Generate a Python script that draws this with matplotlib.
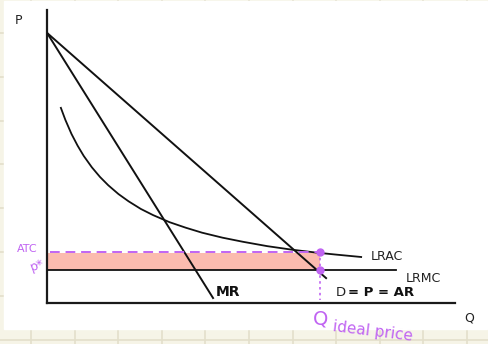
import matplotlib
matplotlib.use("Agg")
import matplotlib.pyplot as plt
from matplotlib.patches import Rectangle

# ----------------------------
# DATA (Q and P on a 0..100 scale)
# ----------------------------
demand_q = [0.0, 68.4]
demand_p = [92.2, 8.5]

mr_q = [0.0, 40.7]
mr_p = [92.2, 1.7]

lrac_q = [3.4, 4.5, 6, 7.5, 9, 11, 13, 15, 17.5, 20, 23, 26, 30, 34,
          38, 43, 48, 54, 60, 66, 71, 77]
lrac_p = [66.6, 62.5, 57.7, 53.7, 50.2, 46.3, 43.0, 40.2, 37.2, 34.7, 32.1,
          30.0, 27.6, 25.7, 24.0, 22.3, 20.9, 19.4, 18.2, 17.2, 16.5, 15.7]

lrmc_q = [0.0, 85.5]
lrmc_p = [11.3, 11.3]

q_ideal = 66.9
atc_level = 17.4
p_star = 11.3

purple = "#c064f2"
salmon = "#fbbbaf"

fig = plt.figure(figsize=(4.89, 3.44), dpi=100)

# paper background with faint grid
bg = fig.add_axes([0, 0, 1, 1])
bg.set_xlim(0, 489)
bg.set_ylim(344, 0)
bg.axis("off")
bg.add_patch(Rectangle((0, 0), 489, 344, color="#f6f4e7", zorder=0))
for i in range(12):
    bg.axvline(31 + 43.6 * i, color="#e3dfcb", lw=1.2, zorder=1)
    bg.axhline(33 + 43.8 * i, color="#e3dfcb", lw=1.2, zorder=1)
bg.add_patch(Rectangle((4, 1), 483, 328, color="white", zorder=2))

# main chart
ax = fig.add_axes([47 / 489, 41 / 344, 408 / 489, 293 / 344])
ax.patch.set_alpha(0)
ax.set_xlim(0, 100)
ax.set_ylim(0, 100)
for s in ["top", "right"]:
    ax.spines[s].set_visible(False)
for s in ["left", "bottom"]:
    ax.spines[s].set_linewidth(1.6)
    ax.spines[s].set_color("#1a1a1a")
ax.set_xticks([])
ax.set_yticks([])

ax.fill_between([0.3, q_ideal], p_star, atc_level - 0.3, color=salmon, lw=0, zorder=1)

ax.plot(demand_q, demand_p, color="#111", lw=1.4, zorder=3)
ax.plot(mr_q, mr_p, color="#111", lw=1.4, zorder=3)
ax.plot(lrac_q, lrac_p, color="#111", lw=1.3, zorder=3, solid_joinstyle="round")
ax.plot(lrmc_q, lrmc_p, color="#111", lw=1.3, zorder=3)

ax.plot([0.8, q_ideal], [atc_level, atc_level], color=purple, lw=1.4,
        dashes=(5, 3), zorder=4)
ax.plot([q_ideal, q_ideal], [atc_level, 1.0], color=purple, lw=1.2,
        ls=(0, (1.5, 2)), zorder=4)
ax.plot([q_ideal, q_ideal], [atc_level, p_star], "o", color=purple, ms=5, zorder=5)

# labels (pixel coordinates on the background)
bg.text(19, 20, "P", fontsize=9, color="#222", ha="center", va="center", zorder=6)
bg.text(469, 318, "Q", fontsize=9, color="#222", ha="center", va="center", zorder=6)
bg.text(371, 257, "LRAC", fontsize=9, color="#222", ha="left", va="center", zorder=6)
bg.text(406, 279, "LRMC", fontsize=9, color="#222", ha="left", va="center", zorder=6)
bg.text(216, 292, "MR", fontsize=10, fontweight="bold", color="#111",
        ha="left", va="center", zorder=6)
bg.text(336, 292, "D", fontsize=9.5, color="#222", ha="left", va="center", zorder=6)
bg.text(348, 292, "= P = AR", fontsize=9.5, fontweight="bold", color="#111",
        ha="left", va="center", zorder=6)

bg.text(27, 249, "ATC", fontsize=8, color=purple, ha="center", va="center", zorder=6)
bg.text(37, 265, "p*", fontsize=9, color=purple, ha="center", va="center",
        rotation=20, zorder=6)
bg.text(131, 263, "Loss", fontsize=8, color=purple, ha="center", va="center", zorder=6)
bg.text(321, 319, "Q", fontsize=14, color=purple, ha="center", va="center", zorder=6)
bg.text(373, 331, "ideal price", fontsize=11, color=purple, ha="center",
        va="center", rotation=-7, zorder=6)

fig.savefig("out.png", dpi=100)
